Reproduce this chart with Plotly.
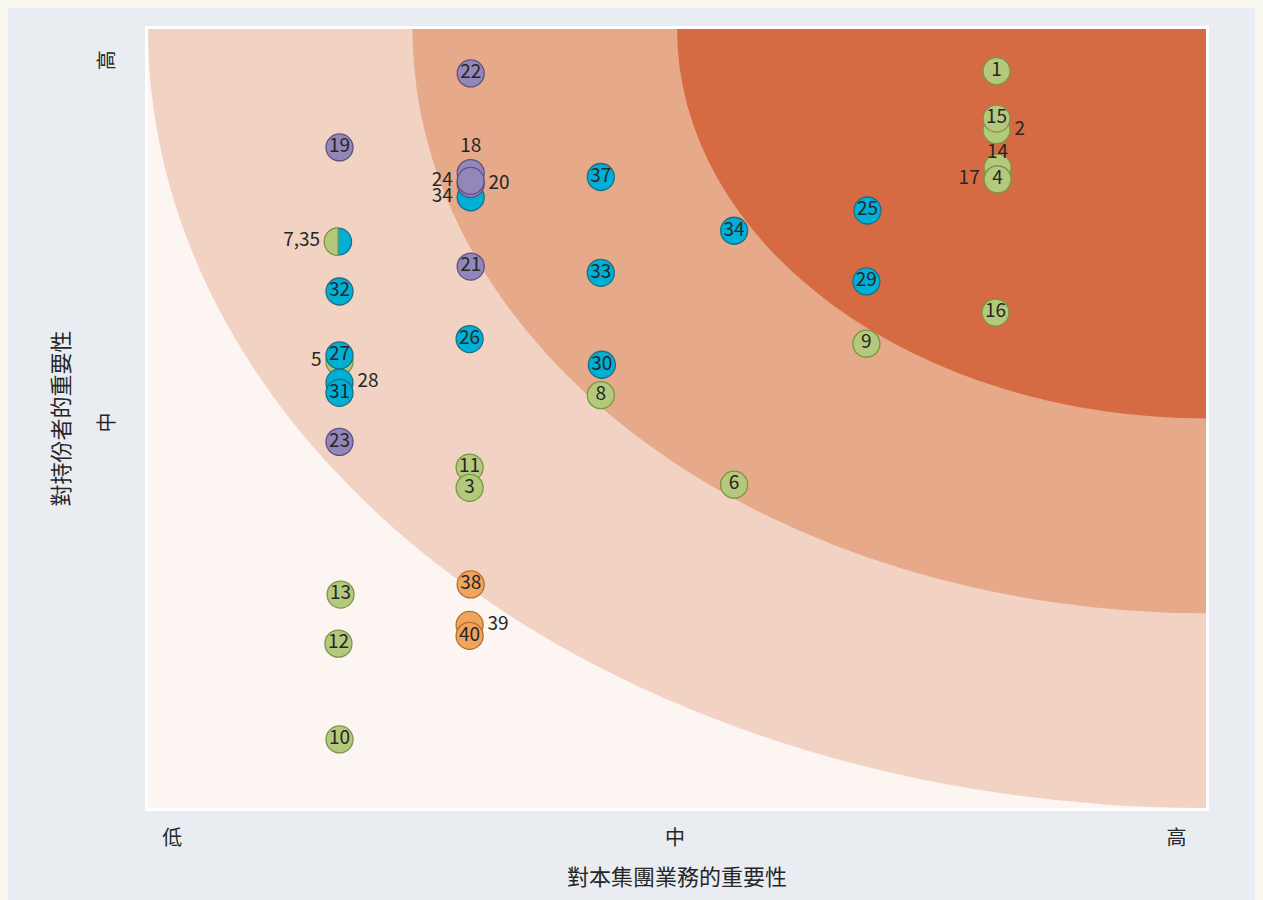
import math
import plotly.graph_objects as go

# ---------------- data ----------------
x_ticks = [0.023, 0.498, 0.972]
x_tick_text = ["低", "中", "高"]
y_ticks = [0.491, 0.956]
y_tick_text = ["中", "高"]
x_title = "對本集團業務的重要性"
y_title = "對持份者的重要性"

zone_radii = [1.0, 0.75, 0.5]

green_labels = ["1", "2", "15", "14", "17", "4", "16", "9", "6", "8", "11", "3", "5", "13", "12", "10"]
green_x = [0.802, 0.802, 0.802, 0.803, 0.803, 0.803, 0.801, 0.679, 0.554, 0.428, 0.304, 0.304, 0.181, 0.182, 0.180, 0.181]
green_y = [0.946, 0.870, 0.885, 0.822, 0.807, 0.807, 0.636, 0.596, 0.415, 0.530, 0.437, 0.411, 0.573, 0.274, 0.211, 0.088]
green_pos = ["in", "right", "in", "top", "left", "in", "in", "in", "in", "in", "in", "in", "left", "in", "in", "in"]

cyan_labels = ["37", "33", "30", "34", "25", "29", "34", "26", "32", "27", "28", "31"]
cyan_x = [0.428, 0.428, 0.429, 0.554, 0.680, 0.679, 0.305, 0.304, 0.181, 0.181, 0.181, 0.181]
cyan_y = [0.810, 0.687, 0.569, 0.741, 0.767, 0.676, 0.784, 0.602, 0.663, 0.581, 0.546, 0.533]
cyan_pos = ["in", "in", "in", "in", "in", "in", "left", "in", "in", "in", "right", "in"]

purple_labels = ["22", "19", "18", "20", "24", "21", "23"]
purple_x = [0.305, 0.181, 0.305, 0.305, 0.305, 0.305, 0.181]
purple_y = [0.943, 0.848, 0.815, 0.801, 0.805, 0.695, 0.470]
purple_pos = ["in", "in", "top", "right", "left", "in", "in"]

orange_labels = ["38", "39", "40"]
orange_x = [0.305, 0.304, 0.304]
orange_y = [0.287, 0.235, 0.221]
orange_pos = ["in", "right", "in"]

split_label = "7,35"
split_x = [0.1796]
split_y = [0.727]

# ---------------- styles ----------------
FONT = "Noto Sans CJK TC, Noto Sans, sans-serif"
TXT = "#262626"
zone_colors = ["#f2d3c3", "#e6a989", "#d66b43"]
lightest = "#fcf5f2"
styles = {
    "green": ("#b5c97d", "#7a9646"),
    "cyan": ("#00afd6", "#1d6f82"),
    "purple": ("#9386b9", "#5e5282"),
    "orange": ("#f0a45c", "#b4702e"),
}
MS = 27
FS = 19

fig = go.Figure()

groups = [
    ("green", green_labels, green_x, green_y, green_pos),
    ("cyan", cyan_labels, cyan_x, cyan_y, cyan_pos),
    ("purple", purple_labels, purple_x, purple_y, purple_pos),
    ("orange", orange_labels, orange_x, orange_y, orange_pos),
]

outside = {"right": ([], [], []), "left": ([], [], []), "top": ([], [], [])}

for name, labels, xs, ys, pos in groups:
    fill, edge = styles[name]
    fig.add_trace(go.Scatter(
        x=xs, y=ys, mode="markers+text",
        text=[l if p == "in" else "" for l, p in zip(labels, pos)],
        textposition="middle center",
        textfont=dict(family=FONT, size=FS, color=TXT),
        marker=dict(size=MS, color=fill, line=dict(color=edge, width=1.3)),
        hoverinfo="text", hovertext=labels, showlegend=False,
    ))
    for l, xv, yv, p in zip(labels, xs, ys, pos):
        if p != "in":
            outside[p][0].append(xv)
            outside[p][1].append(yv)
            outside[p][2].append(l)
    if name == "green":
        # split marker (7 green / 35 cyan) drawn after the green group
        cf, ce = styles["cyan"]
        fig.add_trace(go.Scatter(
            x=split_x, y=split_y, mode="markers",
            marker=dict(size=MS, color=cf, line=dict(color=ce, width=1.3)),
            hoverinfo="text", hovertext=[split_label], showlegend=False,
        ))

outside["left"][0].append(split_x[0])
outside["left"][1].append(split_y[0])
outside["left"][2].append(split_label)

tp = {"right": "middle right", "left": "middle left", "top": "top center"}
# invisible marker sizes only set the label offset from the point
offset_size = {"right": MS, "left": MS, "top": [6, 24]}
for p, (xs, ys, ts) in outside.items():
    fig.add_trace(go.Scatter(
        x=xs, y=ys, mode="markers+text", text=ts, textposition=tp[p],
        textfont=dict(family=FONT, size=FS, color=TXT),
        marker=dict(size=offset_size[p], opacity=0), hoverinfo="skip", showlegend=False,
    ))

shapes = []
# zones
shapes.append(dict(type="rect", xref="x", yref="y", layer="below",
                   x0=0, x1=1, y0=0, y1=1, fillcolor=lightest, line=dict(width=0)))
for r, c in zip(zone_radii, zone_colors):
    shapes.append(dict(type="circle", xref="x", yref="y", layer="below",
                       x0=1 - r, x1=1 + r, y0=1 - r, y1=1 + r,
                       fillcolor=c, line=dict(width=0)))
# left half (green) of split marker
R = MS / 2 + 0.3
pts = []
for i in range(25):
    t = math.pi / 2 + math.pi * i / 24
    pts.append((R * math.cos(t), R * math.sin(t)))
path = "M " + " L ".join(f"{a:.2f},{b:.2f}" for a, b in pts) + " Z"
gf, ge = styles["green"]
shapes.append(dict(type="path", xref="x", yref="y", layer="above",
                   xsizemode="pixel", ysizemode="pixel",
                   xanchor=split_x[0], yanchor=split_y[0], path=path,
                   fillcolor=gf, line=dict(color=ge, width=1.2)))

fig.update_layout(
    width=1263, height=900,
    margin=dict(l=140, r=65, t=21, b=100),
    paper_bgcolor="#e9edf1", plot_bgcolor=lightest,
    font=dict(family=FONT, color=TXT),
    shapes=shapes,
    xaxis=dict(range=[0, 1], showgrid=False, zeroline=False,
               tickvals=x_ticks, ticktext=x_tick_text,
               ticks="outside", ticklen=10, tickcolor="rgba(0,0,0,0)",
               tickfont=dict(size=20, family=FONT, color=TXT),
               showline=True, linecolor="white", linewidth=3, mirror=True,
               title=dict(text=x_title, font=dict(size=22, family=FONT, color=TXT), standoff=20)),
    yaxis=dict(range=[0, 1], showgrid=False, zeroline=False,
               tickvals=y_ticks, ticktext=y_tick_text, tickangle=-90,
               ticks="outside", ticklen=23, tickcolor="rgba(0,0,0,0)",
               tickfont=dict(size=20, family=FONT, color=TXT),
               showline=True, linecolor="white", linewidth=3, mirror=True,
               title=dict(text=y_title, font=dict(size=22, family=FONT, color=TXT), standoff=16)),
)

fig.write_html("out.html", post_script="document.body.style.background='#fbf8ef';")
